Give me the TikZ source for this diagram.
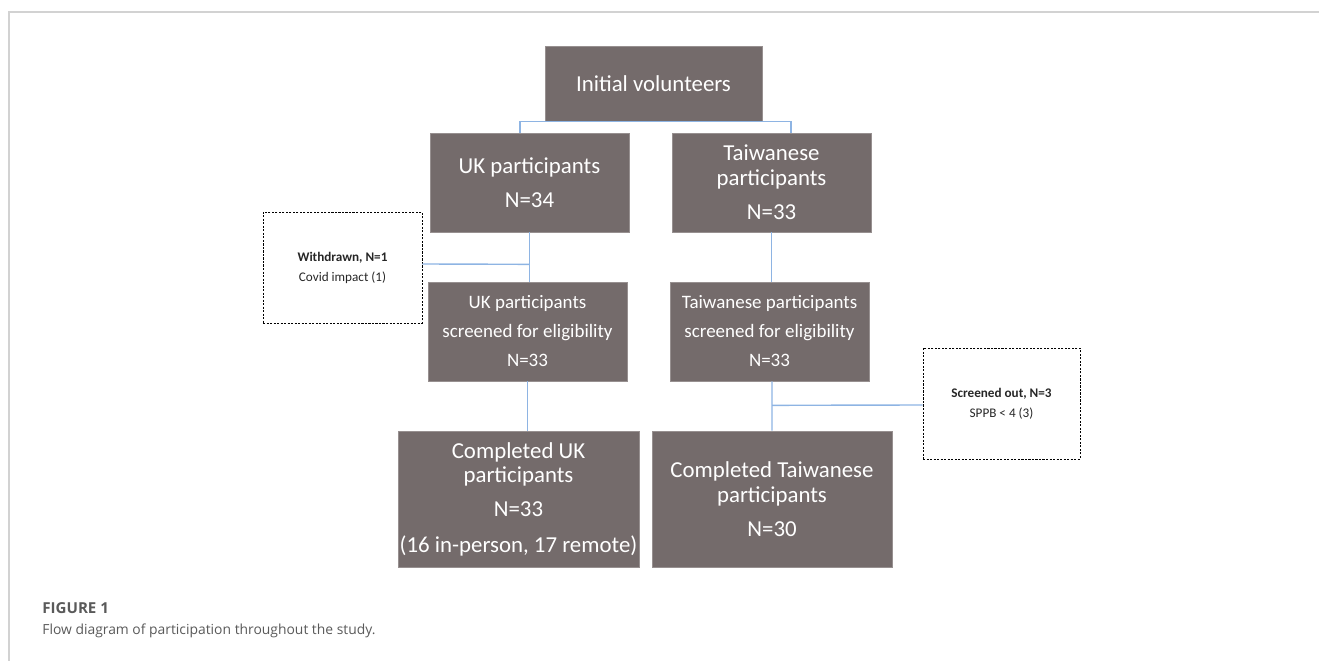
\documentclass[tikz,border=0pt]{standalone}
\usepackage{fontspec}
\setmainfont{Carlito}
\newfontfamily\capfont{Open Sans}
\usepackage{tikz}
\usetikzlibrary{calc}

\definecolor{boxgray}{HTML}{746B6B}
\definecolor{linkblue}{HTML}{8EB4E3}
\definecolor{framegray}{HTML}{D2D2D2}
\definecolor{capgray}{HTML}{5A5A5A}

\begin{document}
\begin{tikzpicture}[x=0.02cm, y=-0.02cm,
  flowbox/.style={fill=boxgray, draw=boxgray!75!white, line width=0.4pt,
                  text=white, align=center, inner sep=0pt},
  bigtext/.style={font=\fontsize{13}{14.2}\selectfont},
  midtext/.style={font=\fontsize{10.8}{16.5}\selectfont},
  notebox/.style={draw=black, line width=0.5pt, dash pattern=on 1.2pt off 0.8pt,
                  align=center, inner sep=0pt, text=black!85,
                  font=\fontsize{7.5}{11.4}\selectfont},
  link/.style={draw=linkblue, line width=0.8pt}]
  \useasboundingbox (0,0) rectangle (1319,661);

  % Frame of the figure
  \draw[framegray, line width=1pt] (9,661) -- (9,12) -- (1319,12);

  % Top box
  \node[flowbox, bigtext, minimum width=4.34cm, minimum height=1.5cm]
    (init) at (653.5,83.5) {Initial volunteers};

  % Two cohorts
  \node[flowbox, bigtext, minimum width=3.98cm, minimum height=1.98cm]
    (uk) at (529.5,182.5) {UK participants\\[5pt]N=34};
  \node[flowbox, bigtext, minimum width=3.98cm, minimum height=1.98cm]
    (tw) at (771.5,182.5) {Taiwanese\\participants\\[5pt]N=33};

  % Screening
  \node[flowbox, midtext, minimum width=3.98cm, minimum height=1.98cm]
    (ukscr) at (527.5,331.5) {UK participants\\screened for eligibility\\N=33};
  \node[flowbox, midtext, minimum width=3.98cm, minimum height=1.98cm]
    (twscr) at (769.5,331.5) {Taiwanese participants\\screened for eligibility\\N=33};

  % Completed
  \node[flowbox, bigtext, minimum width=4.82cm, minimum height=2.72cm]
    (ukdone) at (518.5,499) {Completed UK\\participants\\[5pt]N=33\\[6pt](16 in-person, 17 remote)};
  \node[flowbox, bigtext, minimum width=4.8cm, minimum height=2.72cm]
    (twdone) at (772,499) {Completed Taiwanese\\participants\\[5pt]N=30};

  % Exclusions
  \node[notebox, minimum width=3.18cm, minimum height=2.22cm]
    (withdrawn) at (342.5,267.5) {\textbf{Withdrawn, N=1}\\Covid impact (1)};
  \node[notebox, minimum width=3.14cm, minimum height=2.22cm]
    (screenout) at (1001.5,403.5) {\textbf{Screened out, N=3}\\SPPB < 4 (3)};

  % Connectors
  \draw[link] ($(uk.north)+(-9.5,0)$) |- (init.south) -| ($(tw.north)+(19.5,0)$);
  \draw[link] (uk.south) -- (uk.south |- ukscr.north);
  \draw[link] (tw.south) -- (tw.south |- twscr.north);
  \draw[link] (withdrawn.east) ++(0,-3.5) -- ($(uk.south)+(0,32)$);
  \draw[link] (ukscr.south) -- (ukscr.south |- ukdone.north);
  \draw[link] ($(twscr.south)+(2.5,0)$) -- ($(twdone.north)+(0,0)$);
  \draw[link] (screenout.west) ++(0,1.5) -- ($(twscr.south)+(2.5,24)$);

  % Caption
  \node[anchor=west, inner sep=0pt, text=capgray, font=\capfont\fontsize{8.6}{10}\selectfont\bfseries]
    (figlabel) at (42,608) {FIGURE 1};
  \node[anchor=west, inner sep=0pt, text=capgray, font=\capfont\fontsize{7.9}{10}\selectfont]
    (figcap) at (42,631) {Flow diagram of participation throughout the study.};
\end{tikzpicture}
\end{document}
